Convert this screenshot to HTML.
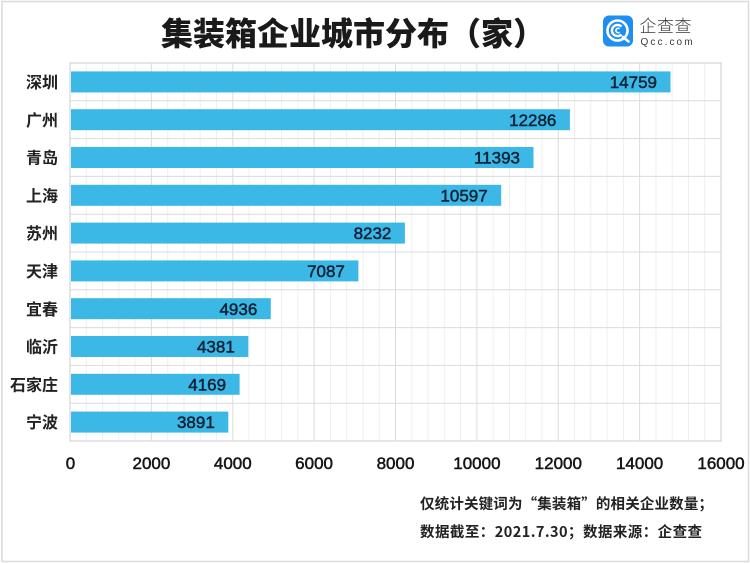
<!DOCTYPE html>
<html>
<head>
<meta charset="utf-8">
<style>
html,body{margin:0;padding:0;background:#fff;}
body{width:750px;height:563px;overflow:hidden;}
svg{display:block;}
</style>
</head>
<body>
<svg width="750" height="563" viewBox="0 0 750 563" xmlns="http://www.w3.org/2000/svg">
  <rect x="2" y="1.5" width="746.5" height="560" fill="#fff" stroke="#dadada" stroke-width="1.5"/>
  <!-- Title -->
  <text x="161" y="45" font-family="Liberation Sans, Noto Sans CJK SC, sans-serif" font-size="32" font-weight="900" fill="#1a1a1a">集装箱企业城市分布（家）</text>
  <!-- Logo -->
  <rect x="603" y="15.5" width="30" height="31" rx="6" fill="#1f8ef1"/>
  <circle cx="617.5" cy="30.5" r="10" fill="none" stroke="#fff" stroke-width="2.6"/>
  <path d="M621.5 26.5 A5.6 5.6 0 1 0 621.5 34.5" fill="none" stroke="#fff" stroke-width="2.4"/>
  <path d="M619.5 28.8 A2.2 2.2 0 1 0 619.5 32.2" fill="none" stroke="#fff" stroke-width="1.6"/>
  <path d="M623 37 L628.5 41.5" stroke="#fff" stroke-width="2.6" stroke-linecap="round"/>
  <text x="639.5" y="32" font-family="Liberation Sans, Noto Sans CJK SC, sans-serif" font-size="17" font-weight="300" fill="#3a3a3a" letter-spacing="0.5">企查查</text>
  <text x="640.5" y="45" font-family="Liberation Sans, sans-serif" font-size="10" fill="#3a3a3a" letter-spacing="2.1">Qcc.com</text>

  <!-- Grid -->
  <g stroke="#efefef" stroke-width="1">
    <line x1="86.3" y1="63" x2="86.3" y2="441"/><line x1="102.6" y1="63" x2="102.6" y2="441"/><line x1="118.8" y1="63" x2="118.8" y2="441"/><line x1="135.1" y1="63" x2="135.1" y2="441"/>
    <line x1="167.7" y1="63" x2="167.7" y2="441"/><line x1="184" y1="63" x2="184" y2="441"/><line x1="200.2" y1="63" x2="200.2" y2="441"/><line x1="216.5" y1="63" x2="216.5" y2="441"/>
    <line x1="249" y1="63" x2="249" y2="441"/><line x1="265.3" y1="63" x2="265.3" y2="441"/><line x1="281.6" y1="63" x2="281.6" y2="441"/><line x1="297.9" y1="63" x2="297.9" y2="441"/>
    <line x1="330.4" y1="63" x2="330.4" y2="441"/><line x1="346.7" y1="63" x2="346.7" y2="441"/><line x1="363" y1="63" x2="363" y2="441"/><line x1="379.2" y1="63" x2="379.2" y2="441"/>
    <line x1="411.8" y1="63" x2="411.8" y2="441"/><line x1="428.1" y1="63" x2="428.1" y2="441"/><line x1="444.3" y1="63" x2="444.3" y2="441"/><line x1="460.6" y1="63" x2="460.6" y2="441"/>
    <line x1="493.2" y1="63" x2="493.2" y2="441"/><line x1="509.4" y1="63" x2="509.4" y2="441"/><line x1="525.7" y1="63" x2="525.7" y2="441"/><line x1="542" y1="63" x2="542" y2="441"/>
    <line x1="574.5" y1="63" x2="574.5" y2="441"/><line x1="590.8" y1="63" x2="590.8" y2="441"/><line x1="607.1" y1="63" x2="607.1" y2="441"/><line x1="623.4" y1="63" x2="623.4" y2="441"/>
    <line x1="655.9" y1="63" x2="655.9" y2="441"/><line x1="672.2" y1="63" x2="672.2" y2="441"/><line x1="688.5" y1="63" x2="688.5" y2="441"/><line x1="704.7" y1="63" x2="704.7" y2="441"/>
  </g>
  <g stroke="#dcdcdc" stroke-width="1">
    <line x1="151.4" y1="63" x2="151.4" y2="441"/><line x1="232.8" y1="63" x2="232.8" y2="441"/><line x1="314.1" y1="63" x2="314.1" y2="441"/><line x1="395.5" y1="63" x2="395.5" y2="441"/>
    <line x1="476.9" y1="63" x2="476.9" y2="441"/><line x1="558.3" y1="63" x2="558.3" y2="441"/><line x1="639.6" y1="63" x2="639.6" y2="441"/>
    <line x1="70" y1="100.8" x2="721" y2="100.8"/><line x1="70" y1="138.6" x2="721" y2="138.6"/><line x1="70" y1="176.4" x2="721" y2="176.4"/>
    <line x1="70" y1="214.2" x2="721" y2="214.2"/><line x1="70" y1="252" x2="721" y2="252"/><line x1="70" y1="289.8" x2="721" y2="289.8"/>
    <line x1="70" y1="327.6" x2="721" y2="327.6"/><line x1="70" y1="365.4" x2="721" y2="365.4"/><line x1="70" y1="403.2" x2="721" y2="403.2"/>
  </g>
  <rect x="70" y="63" width="651" height="378" fill="none" stroke="#d4d4d4" stroke-width="1.2"/>

  <!-- Bars -->
  <g fill="#3bb8e6">
    <rect x="71" y="71.4" width="599.5" height="21"/>
    <rect x="71" y="109.2" width="498.9" height="21"/>
    <rect x="71" y="147" width="462.5" height="21"/>
    <rect x="71" y="184.8" width="430.2" height="21"/>
    <rect x="71" y="222.6" width="333.9" height="21"/>
    <rect x="71" y="260.4" width="287.4" height="21"/>
    <rect x="71" y="298.2" width="199.8" height="21"/>
    <rect x="71" y="336" width="177.3" height="21"/>
    <rect x="71" y="373.8" width="168.6" height="21"/>
    <rect x="71" y="411.6" width="157.3" height="21"/>
  </g>

  <!-- Value labels -->
  <g font-family="Liberation Sans, sans-serif" font-size="17" fill="#0f2236" text-anchor="end" stroke="#0f2236" stroke-width="0.5">
    <text x="657" y="88">14759</text>
    <text x="556.4" y="125.8">12286</text>
    <text x="520" y="163.6">11393</text>
    <text x="487.7" y="201.4">10597</text>
    <text x="391.4" y="239.2">8232</text>
    <text x="344.9" y="277">7087</text>
    <text x="257.3" y="314.8">4936</text>
    <text x="234.8" y="352.6">4381</text>
    <text x="226.1" y="390.4">4169</text>
    <text x="214.8" y="428.2">3891</text>
  </g>

  <!-- Category labels -->
  <g font-family="Liberation Sans, Noto Sans CJK SC, sans-serif" font-size="16" font-weight="700" fill="#222" text-anchor="end">
    <text x="58" y="88">深圳</text>
    <text x="58" y="125.8">广州</text>
    <text x="58" y="163.6">青岛</text>
    <text x="58" y="201.4">上海</text>
    <text x="58" y="239.2">苏州</text>
    <text x="58" y="277">天津</text>
    <text x="58" y="314.8">宜春</text>
    <text x="58" y="352.6">临沂</text>
    <text x="58" y="390.4">石家庄</text>
    <text x="58" y="428.2">宁波</text>
  </g>

  <!-- X axis labels -->
  <g font-family="Liberation Sans, sans-serif" font-size="17" fill="#151515" text-anchor="middle" stroke="#151515" stroke-width="0.5">
    <text x="70.5" y="469">0</text>
    <text x="151.4" y="469">2000</text>
    <text x="232.8" y="469">4000</text>
    <text x="314.1" y="469">6000</text>
    <text x="395.5" y="469">8000</text>
    <text x="476.9" y="469">10000</text>
    <text x="558.3" y="469">12000</text>
    <text x="639.6" y="469">14000</text>
    <text x="721" y="469">16000</text>
  </g>

  <!-- Footnote -->
  <g font-family="Noto Sans CJK SC, sans-serif" font-size="14.5" font-weight="700" fill="#222">
    <text x="420" y="509" textLength="293" lengthAdjust="spacing">仅统计关键词为“集装箱”的相关企业数量；</text>
    <text x="420" y="537" textLength="282" lengthAdjust="spacing">数据截至：2021.7.30；数据来源：企查查</text>
  </g>
</svg>
</body>
</html>
